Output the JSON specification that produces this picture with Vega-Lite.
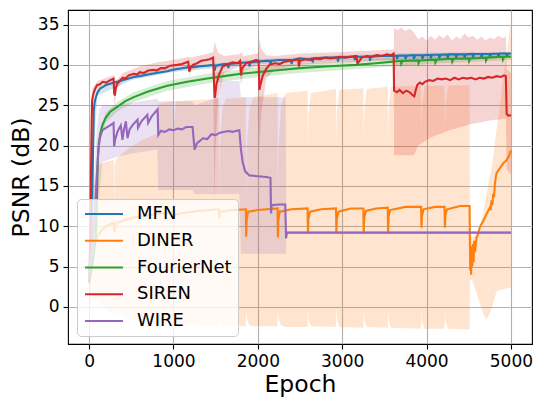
{
"$schema": "https://vega.github.io/schema/vega-lite/v6.json",
"width": 464, "height": 334,
"autosize": {"type": "none"},
"padding": {"left": 68, "top": 10, "right": 4, "bottom": 54},
"background": "white",
"config": {
  "view": {"stroke": "black", "strokeWidth": 1.1},
  "font": "DejaVu Sans",
  "axis": {"labelFont": "DejaVu Sans", "labelFontSize": 17, "labelColor": "black", "tickColor": "black", "tickSize": 5, "tickWidth": 1.1, "domain": false, "grid": true, "gridColor": "#b0b0b0", "gridWidth": 1.1, "titleFont": "DejaVu Sans", "titleFontSize": 23.5, "titleFontWeight": "normal", "titleColor": "black", "labelPadding": 4, "labelFlush": false},
  "legend": {"labelFont": "DejaVu Sans", "labelFontSize": 18, "labelColor": "black"}
},
"datasets": {
"L": [
{"s":"MFN","e":0,"v":4},{"s":"MFN","e":25,"v":8},{"s":"MFN","e":40,"v":15},{"s":"MFN","e":50,"v":21},{"s":"MFN","e":55,"v":24.2},{"s":"MFN","e":65,"v":25.3},{"s":"MFN","e":80,"v":26},{"s":"MFN","e":100,"v":26.6},{"s":"MFN","e":134,"v":27.1},{"s":"MFN","e":170,"v":27.3},{"s":"MFN","e":200,"v":27.5},{"s":"MFN","e":260,"v":27.7},{"s":"MFN","e":333,"v":27.9},{"s":"MFN","e":400,"v":28.1},{"s":"MFN","e":470,"v":28.3},{"s":"MFN","e":530,"v":28.5},{"s":"MFN","e":600,"v":28.6},{"s":"MFN","e":700,"v":28.8},{"s":"MFN","e":800,"v":29},{"s":"MFN","e":926,"v":29.2},{"s":"MFN","e":1000,"v":29.4},{"s":"MFN","e":1124,"v":29.6},{"s":"MFN","e":1185,"v":29.7},{"s":"MFN","e":1190,"v":29.2},{"s":"MFN","e":1200,"v":29.7},{"s":"MFN","e":1300,"v":29.8},{"s":"MFN","e":1400,"v":29.9},{"s":"MFN","e":1480,"v":30},{"s":"MFN","e":1490,"v":29.3},{"s":"MFN","e":1500,"v":29.9},{"s":"MFN","e":1600,"v":30.1},{"s":"MFN","e":1645,"v":30.1},{"s":"MFN","e":1650,"v":29.6},{"s":"MFN","e":1660,"v":30.1},{"s":"MFN","e":1750,"v":30.2},{"s":"MFN","e":1850,"v":30.3},{"s":"MFN","e":1895,"v":30.3},{"s":"MFN","e":1900,"v":29.8},{"s":"MFN","e":1910,"v":30.3},{"s":"MFN","e":2000,"v":30.4},{"s":"MFN","e":2100,"v":30.5},{"s":"MFN","e":2145,"v":30.5},{"s":"MFN","e":2150,"v":30},{"s":"MFN","e":2160,"v":30.5},{"s":"MFN","e":2250,"v":30.6},{"s":"MFN","e":2350,"v":30.6},{"s":"MFN","e":2395,"v":30.6},{"s":"MFN","e":2400,"v":30.1},{"s":"MFN","e":2410,"v":30.6},{"s":"MFN","e":2494,"v":30.8},{"s":"MFN","e":2600,"v":30.7},{"s":"MFN","e":2645,"v":30.8},{"s":"MFN","e":2650,"v":30.3},{"s":"MFN","e":2660,"v":30.8},{"s":"MFN","e":2800,"v":30.9},{"s":"MFN","e":2945,"v":30.9},{"s":"MFN","e":2950,"v":30.4},{"s":"MFN","e":2960,"v":30.9},{"s":"MFN","e":3100,"v":31},{"s":"MFN","e":3145,"v":31},{"s":"MFN","e":3150,"v":30.6},{"s":"MFN","e":3160,"v":31},{"s":"MFN","e":3325,"v":31},{"s":"MFN","e":3330,"v":30.5},{"s":"MFN","e":3340,"v":31},{"s":"MFN","e":3450,"v":31.1},{"s":"MFN","e":3600,"v":31.1},
{"s":"MFN","e":3647,"v":31.15},{"s":"MFN","e":3650,"v":30.7},{"s":"MFN","e":3665,"v":31.15},
{"s":"MFN","e":3747,"v":31.15},{"s":"MFN","e":3750,"v":30.7},{"s":"MFN","e":3765,"v":31.15},
{"s":"MFN","e":3847,"v":31.2},{"s":"MFN","e":3850,"v":30.75},{"s":"MFN","e":3865,"v":31.2},
{"s":"MFN","e":3947,"v":31.2},{"s":"MFN","e":3950,"v":30.75},{"s":"MFN","e":3965,"v":31.2},
{"s":"MFN","e":4047,"v":31.25},{"s":"MFN","e":4050,"v":30.8},{"s":"MFN","e":4065,"v":31.25},
{"s":"MFN","e":4147,"v":31.25},{"s":"MFN","e":4150,"v":30.8},{"s":"MFN","e":4165,"v":31.25},
{"s":"MFN","e":4247,"v":31.3},{"s":"MFN","e":4250,"v":30.85},{"s":"MFN","e":4265,"v":31.3},
{"s":"MFN","e":4347,"v":31.3},{"s":"MFN","e":4350,"v":30.85},{"s":"MFN","e":4365,"v":31.3},
{"s":"MFN","e":4447,"v":31.3},{"s":"MFN","e":4450,"v":30.9},{"s":"MFN","e":4465,"v":31.3},
{"s":"MFN","e":4547,"v":31.35},{"s":"MFN","e":4550,"v":30.9},{"s":"MFN","e":4565,"v":31.35},
{"s":"MFN","e":4647,"v":31.35},{"s":"MFN","e":4650,"v":30.9},{"s":"MFN","e":4665,"v":31.35},
{"s":"MFN","e":4747,"v":31.35},{"s":"MFN","e":4750,"v":30.95},{"s":"MFN","e":4765,"v":31.35},
{"s":"MFN","e":4847,"v":31.4},{"s":"MFN","e":4850,"v":30.95},{"s":"MFN","e":4865,"v":31.4},
{"s":"MFN","e":4947,"v":31.4},{"s":"MFN","e":4950,"v":31},{"s":"MFN","e":4965,"v":31.4},{"s":"MFN","e":5000,"v":31.4},

{"s":"DINER","e":0,"v":3},{"s":"DINER","e":30,"v":5.5},{"s":"DINER","e":60,"v":7.5},{"s":"DINER","e":100,"v":8.8},{"s":"DINER","e":150,"v":9.5},{"s":"DINER","e":200,"v":10},{"s":"DINER","e":260,"v":10.3},{"s":"DINER","e":295,"v":10.4},{"s":"DINER","e":300,"v":9.3},{"s":"DINER","e":306,"v":10},{"s":"DINER","e":330,"v":10.4},{"s":"DINER","e":400,"v":10.7},{"s":"DINER","e":500,"v":11},{"s":"DINER","e":650,"v":11.3},{"s":"DINER","e":800,"v":11.5},{"s":"DINER","e":990,"v":11.7},{"s":"DINER","e":995,"v":10.8},{"s":"DINER","e":1003,"v":11.4},{"s":"DINER","e":1100,"v":11.6},{"s":"DINER","e":1300,"v":11.9},{"s":"DINER","e":1540,"v":12.1},{"s":"DINER","e":1544,"v":11},{"s":"DINER","e":1552,"v":11.8},{"s":"DINER","e":1700,"v":12},{"s":"DINER","e":1858,"v":12.1},{"s":"DINER","e":1862,"v":8.7},{"s":"DINER","e":1868,"v":10.8},{"s":"DINER","e":1885,"v":11.8},{"s":"DINER","e":2000,"v":12},{"s":"DINER","e":2234,"v":12.2},{"s":"DINER","e":2238,"v":8.6},{"s":"DINER","e":2244,"v":10.8},{"s":"DINER","e":2260,"v":11.8},{"s":"DINER","e":2400,"v":12.1},{"s":"DINER","e":2590,"v":12.2},{"s":"DINER","e":2594,"v":9.1},{"s":"DINER","e":2600,"v":11},{"s":"DINER","e":2620,"v":11.8},{"s":"DINER","e":2750,"v":12.1},{"s":"DINER","e":2927,"v":12.2},{"s":"DINER","e":2931,"v":9.1},{"s":"DINER","e":2937,"v":11},{"s":"DINER","e":2957,"v":11.8},{"s":"DINER","e":3100,"v":12.2},{"s":"DINER","e":3251,"v":12.2},{"s":"DINER","e":3255,"v":9.1},{"s":"DINER","e":3261,"v":11},{"s":"DINER","e":3281,"v":11.9},{"s":"DINER","e":3400,"v":12.2},{"s":"DINER","e":3540,"v":12.3},{"s":"DINER","e":3544,"v":9.1},{"s":"DINER","e":3550,"v":11.2},{"s":"DINER","e":3570,"v":12},{"s":"DINER","e":3750,"v":12.4},{"s":"DINER","e":3936,"v":12.4},{"s":"DINER","e":3940,"v":9.8},{"s":"DINER","e":3946,"v":11.3},{"s":"DINER","e":3966,"v":12.1},{"s":"DINER","e":4100,"v":12.4},{"s":"DINER","e":4213,"v":12.4},{"s":"DINER","e":4217,"v":9.8},{"s":"DINER","e":4223,"v":11.3},{"s":"DINER","e":4243,"v":12.1},{"s":"DINER","e":4400,"v":12.5},{"s":"DINER","e":4510,"v":12.5},{"s":"DINER","e":4514,"v":8},{"s":"DINER","e":4518,"v":4.5},{"s":"DINER","e":4523,"v":7.5},{"s":"DINER","e":4528,"v":4},{"s":"DINER","e":4535,"v":6.8},{"s":"DINER","e":4542,"v":5},{"s":"DINER","e":4550,"v":7.8},{"s":"DINER","e":4557,"v":5.5},{"s":"DINER","e":4565,"v":8.2},{"s":"DINER","e":4575,"v":6.8},{"s":"DINER","e":4590,"v":8.5},{"s":"DINER","e":4610,"v":9},{"s":"DINER","e":4632,"v":9.9},{"s":"DINER","e":4680,"v":10.8},{"s":"DINER","e":4720,"v":11.7},{"s":"DINER","e":4750,"v":12.3},{"s":"DINER","e":4760,"v":12},{"s":"DINER","e":4770,"v":13.2},{"s":"DINER","e":4780,"v":12.6},{"s":"DINER","e":4790,"v":14},{"s":"DINER","e":4800,"v":13.6},{"s":"DINER","e":4810,"v":15.2},{"s":"DINER","e":4820,"v":16},{"s":"DINER","e":4830,"v":16.6},{"s":"DINER","e":4870,"v":17.2},{"s":"DINER","e":4910,"v":17.8},{"s":"DINER","e":4950,"v":18.2},{"s":"DINER","e":4980,"v":18.8},{"s":"DINER","e":5000,"v":19.4},

{"s":"FourierNet","e":0,"v":3},{"s":"FourierNet","e":50,"v":6},{"s":"FourierNet","e":80,"v":9},{"s":"FourierNet","e":90,"v":12.5},{"s":"FourierNet","e":97,"v":15.5},{"s":"FourierNet","e":105,"v":18.5},{"s":"FourierNet","e":115,"v":20.3},{"s":"FourierNet","e":134,"v":21.6},{"s":"FourierNet","e":160,"v":22.6},{"s":"FourierNet","e":200,"v":23.5},{"s":"FourierNet","e":250,"v":24.2},{"s":"FourierNet","e":333,"v":24.8},{"s":"FourierNet","e":430,"v":25.5},{"s":"FourierNet","e":530,"v":26},{"s":"FourierNet","e":700,"v":26.7},{"s":"FourierNet","e":926,"v":27.4},{"s":"FourierNet","e":1164,"v":27.9},{"s":"FourierNet","e":1400,"v":28.3},{"s":"FourierNet","e":1600,"v":28.6},{"s":"FourierNet","e":1800,"v":28.9},{"s":"FourierNet","e":2000,"v":29.1},{"s":"FourierNet","e":2200,"v":29.3},{"s":"FourierNet","e":2494,"v":29.6},{"s":"FourierNet","e":2800,"v":29.8},{"s":"FourierNet","e":3167,"v":30},{"s":"FourierNet","e":3400,"v":30.2},{"s":"FourierNet","e":3600,"v":30.4},{"s":"FourierNet","e":3695,"v":30.5},{"s":"FourierNet","e":3700,"v":30.15},{"s":"FourierNet","e":3715,"v":30.5},{"s":"FourierNet","e":3900,"v":30.55},{"s":"FourierNet","e":3905,"v":30.2},{"s":"FourierNet","e":3920,"v":30.55},{"s":"FourierNet","e":4100,"v":30.65},{"s":"FourierNet","e":4105,"v":30.3},{"s":"FourierNet","e":4120,"v":30.65},{"s":"FourierNet","e":4300,"v":30.75},{"s":"FourierNet","e":4305,"v":30.4},{"s":"FourierNet","e":4320,"v":30.75},{"s":"FourierNet","e":4500,"v":30.8},{"s":"FourierNet","e":4505,"v":30.45},{"s":"FourierNet","e":4520,"v":30.8},{"s":"FourierNet","e":4700,"v":30.9},{"s":"FourierNet","e":4705,"v":30.55},{"s":"FourierNet","e":4720,"v":30.9},{"s":"FourierNet","e":4900,"v":31},{"s":"FourierNet","e":4905,"v":30.65},{"s":"FourierNet","e":4920,"v":31},{"s":"FourierNet","e":5000,"v":31},

{"s":"SIREN","e":0,"v":3},{"s":"SIREN","e":15,"v":9},{"s":"SIREN","e":22,"v":16},{"s":"SIREN","e":30,"v":22.5},{"s":"SIREN","e":36,"v":25.6},{"s":"SIREN","e":50,"v":26.4},{"s":"SIREN","e":70,"v":27},{"s":"SIREN","e":95,"v":27.5},{"s":"SIREN","e":130,"v":27.6},{"s":"SIREN","e":160,"v":27.9},{"s":"SIREN","e":200,"v":27.8},{"s":"SIREN","e":253,"v":28.1},{"s":"SIREN","e":290,"v":28.3},{"s":"SIREN","e":297,"v":26.5},{"s":"SIREN","e":305,"v":26.2},{"s":"SIREN","e":315,"v":27},{"s":"SIREN","e":330,"v":27.6},{"s":"SIREN","e":360,"v":28},{"s":"SIREN","e":400,"v":28.4},{"s":"SIREN","e":430,"v":28.3},{"s":"SIREN","e":470,"v":28.7},{"s":"SIREN","e":530,"v":28.9},{"s":"SIREN","e":570,"v":28.8},{"s":"SIREN","e":600,"v":29.1},{"s":"SIREN","e":650,"v":29},{"s":"SIREN","e":700,"v":29.3},{"s":"SIREN","e":768,"v":29.4},{"s":"SIREN","e":800,"v":29.3},{"s":"SIREN","e":850,"v":29.6},{"s":"SIREN","e":900,"v":29.6},{"s":"SIREN","e":960,"v":29.9},{"s":"SIREN","e":1045,"v":30},{"s":"SIREN","e":1100,"v":30.1},{"s":"SIREN","e":1150,"v":30.3},{"s":"SIREN","e":1175,"v":30.4},{"s":"SIREN","e":1188,"v":29.2},{"s":"SIREN","e":1200,"v":29.6},{"s":"SIREN","e":1230,"v":30},{"s":"SIREN","e":1280,"v":30.2},{"s":"SIREN","e":1330,"v":30.5},{"s":"SIREN","e":1385,"v":30.6},{"s":"SIREN","e":1430,"v":30.7},{"s":"SIREN","e":1470,"v":30.9},{"s":"SIREN","e":1480,"v":28},{"s":"SIREN","e":1488,"v":25.9},{"s":"SIREN","e":1495,"v":26.3},{"s":"SIREN","e":1510,"v":27.6},{"s":"SIREN","e":1540,"v":28.8},{"s":"SIREN","e":1583,"v":29.8},{"s":"SIREN","e":1650,"v":30.1},{"s":"SIREN","e":1700,"v":30.3},{"s":"SIREN","e":1760,"v":30.2},{"s":"SIREN","e":1790,"v":30.5},{"s":"SIREN","e":1801,"v":28.7},{"s":"SIREN","e":1812,"v":29.5},{"s":"SIREN","e":1861,"v":30.2},{"s":"SIREN","e":1920,"v":30.4},{"s":"SIREN","e":1980,"v":30.6},{"s":"SIREN","e":2010,"v":30.5},{"s":"SIREN","e":2019,"v":26.9},{"s":"SIREN","e":2030,"v":27.5},{"s":"SIREN","e":2060,"v":28.7},{"s":"SIREN","e":2100,"v":29.5},{"s":"SIREN","e":2138,"v":30},{"s":"SIREN","e":2200,"v":30.2},{"s":"SIREN","e":2260,"v":30.1},{"s":"SIREN","e":2320,"v":30.4},{"s":"SIREN","e":2380,"v":30.5},{"s":"SIREN","e":2440,"v":30.6},{"s":"SIREN","e":2480,"v":30.7},{"s":"SIREN","e":2487,"v":29.8},{"s":"SIREN","e":2500,"v":30.5},{"s":"SIREN","e":2560,"v":30.7},{"s":"SIREN","e":2620,"v":30.6},{"s":"SIREN","e":2680,"v":30.8},{"s":"SIREN","e":2740,"v":30.7},{"s":"SIREN","e":2800,"v":30.9},{"s":"SIREN","e":2860,"v":30.8},{"s":"SIREN","e":2920,"v":30.9},{"s":"SIREN","e":2980,"v":31},{"s":"SIREN","e":3040,"v":30.9},{"s":"SIREN","e":3100,"v":31},{"s":"SIREN","e":3170,"v":31.1},{"s":"SIREN","e":3180,"v":30.2},{"s":"SIREN","e":3200,"v":30.4},{"s":"SIREN","e":3230,"v":30.9},{"s":"SIREN","e":3290,"v":31.1},{"s":"SIREN","e":3350,"v":31},{"s":"SIREN","e":3410,"v":31.2},{"s":"SIREN","e":3470,"v":31.1},{"s":"SIREN","e":3530,"v":31.3},{"s":"SIREN","e":3580,"v":31.2},{"s":"SIREN","e":3610,"v":31.4},{"s":"SIREN","e":3615,"v":26.8},{"s":"SIREN","e":3650,"v":26.6},{"s":"SIREN","e":3680,"v":26.9},{"s":"SIREN","e":3720,"v":26.5},{"s":"SIREN","e":3760,"v":26.8},{"s":"SIREN","e":3800,"v":26.6},{"s":"SIREN","e":3840,"v":26.2},{"s":"SIREN","e":3855,"v":26.1},{"s":"SIREN","e":3870,"v":26.8},{"s":"SIREN","e":3890,"v":27.5},{"s":"SIREN","e":3920,"v":27.8},{"s":"SIREN","e":3950,"v":27.6},{"s":"SIREN","e":3980,"v":27.9},{"s":"SIREN","e":4030,"v":28.1},{"s":"SIREN","e":4080,"v":28},{"s":"SIREN","e":4130,"v":28.3},{"s":"SIREN","e":4180,"v":28.2},{"s":"SIREN","e":4230,"v":28.3},{"s":"SIREN","e":4280,"v":28.1},{"s":"SIREN","e":4330,"v":28.4},{"s":"SIREN","e":4380,"v":28.2},{"s":"SIREN","e":4430,"v":28.4},{"s":"SIREN","e":4480,"v":28.3},{"s":"SIREN","e":4530,"v":28.4},{"s":"SIREN","e":4580,"v":28.2},{"s":"SIREN","e":4630,"v":28.4},{"s":"SIREN","e":4680,"v":28.3},{"s":"SIREN","e":4730,"v":28.5},{"s":"SIREN","e":4780,"v":28.4},{"s":"SIREN","e":4830,"v":28.6},{"s":"SIREN","e":4880,"v":28.5},{"s":"SIREN","e":4920,"v":28.7},{"s":"SIREN","e":4940,"v":28.6},{"s":"SIREN","e":4950,"v":23.9},{"s":"SIREN","e":4970,"v":23.7},{"s":"SIREN","e":5000,"v":23.8},

{"s":"WIRE","e":0,"v":4},{"s":"WIRE","e":40,"v":8},{"s":"WIRE","e":70,"v":12},{"s":"WIRE","e":90,"v":16},{"s":"WIRE","e":110,"v":19.5},{"s":"WIRE","e":130,"v":21},{"s":"WIRE","e":158,"v":21.9},{"s":"WIRE","e":200,"v":22.2},{"s":"WIRE","e":250,"v":22.5},{"s":"WIRE","e":290,"v":22.8},{"s":"WIRE","e":297,"v":19.9},{"s":"WIRE","e":310,"v":20.8},{"s":"WIRE","e":340,"v":21.8},{"s":"WIRE","e":376,"v":22.5},{"s":"WIRE","e":396,"v":20.7},{"s":"WIRE","e":410,"v":21.8},{"s":"WIRE","e":436,"v":23},{"s":"WIRE","e":455,"v":20.9},{"s":"WIRE","e":480,"v":22},{"s":"WIRE","e":520,"v":22.6},{"s":"WIRE","e":574,"v":23.2},{"s":"WIRE","e":580,"v":22.2},{"s":"WIRE","e":620,"v":23},{"s":"WIRE","e":690,"v":23.8},{"s":"WIRE","e":700,"v":22.8},{"s":"WIRE","e":740,"v":23.6},{"s":"WIRE","e":812,"v":24.5},{"s":"WIRE","e":820,"v":21.3},{"s":"WIRE","e":850,"v":21.8},{"s":"WIRE","e":900,"v":21.7},{"s":"WIRE","e":950,"v":22},{"s":"WIRE","e":1000,"v":21.9},{"s":"WIRE","e":1050,"v":22.1},{"s":"WIRE","e":1100,"v":22},{"s":"WIRE","e":1150,"v":22.3},{"s":"WIRE","e":1227,"v":22.3},{"s":"WIRE","e":1250,"v":19.5},{"s":"WIRE","e":1280,"v":20.3},{"s":"WIRE","e":1350,"v":20.9},{"s":"WIRE","e":1400,"v":20.8},{"s":"WIRE","e":1450,"v":21.4},{"s":"WIRE","e":1500,"v":21.3},{"s":"WIRE","e":1550,"v":21.6},{"s":"WIRE","e":1650,"v":21.8},{"s":"WIRE","e":1700,"v":21.7},{"s":"WIRE","e":1781,"v":21.9},{"s":"WIRE","e":1800,"v":19.5},{"s":"WIRE","e":1820,"v":18},{"s":"WIRE","e":1850,"v":16.8},{"s":"WIRE","e":1900,"v":16.3},{"s":"WIRE","e":2000,"v":16.2},{"s":"WIRE","e":2100,"v":16.1},{"s":"WIRE","e":2150,"v":16},{"s":"WIRE","e":2157,"v":11.6},{"s":"WIRE","e":2165,"v":12.6},{"s":"WIRE","e":2250,"v":12.7},{"s":"WIRE","e":2325,"v":12.7},{"s":"WIRE","e":2335,"v":8.5},{"s":"WIRE","e":2345,"v":9.2},{"s":"WIRE","e":5000,"v":9.2}
],
"B": [
{"s":"MFN","e":0,"lo":2,"hi":6},{"s":"MFN","e":50,"lo":19,"hi":23},{"s":"MFN","e":100,"lo":26.2,"hi":27},{"s":"MFN","e":500,"lo":28.1,"hi":28.8},{"s":"MFN","e":1000,"lo":29.1,"hi":29.7},{"s":"MFN","e":2000,"lo":30.1,"hi":30.7},{"s":"MFN","e":3000,"lo":30.5,"hi":31.2},{"s":"MFN","e":4000,"lo":30.7,"hi":31.5},{"s":"MFN","e":5000,"lo":31,"hi":31.6},

{"s":"DINER","e":0,"lo":0.5,"hi":9},{"s":"DINER","e":40,"lo":0.8,"hi":14},{"s":"DINER","e":100,"lo":0.8,"hi":17.5},{"s":"DINER","e":200,"lo":-0.3,"hi":18},{"s":"DINER","e":294,"lo":-0.8,"hi":18.2},{"s":"DINER","e":297,"lo":0,"hi":12},{"s":"DINER","e":303,"lo":-0.3,"hi":17.5},{"s":"DINER","e":320,"lo":-0.8,"hi":18.3},{"s":"DINER","e":450,"lo":-1.4,"hi":19.5},{"s":"DINER","e":630,"lo":-1.8,"hi":20.7},{"s":"DINER","e":810,"lo":-2,"hi":21.5},{"s":"DINER","e":820,"lo":-2,"hi":25.2},{"s":"DINER","e":990,"lo":-2.1,"hi":25.5},{"s":"DINER","e":995,"lo":-0.5,"hi":14},{"s":"DINER","e":1003,"lo":-1.2,"hi":22},{"s":"DINER","e":1030,"lo":-2.1,"hi":25.5},{"s":"DINER","e":1200,"lo":-2.2,"hi":25.6},{"s":"DINER","e":1540,"lo":-2.3,"hi":25.8},{"s":"DINER","e":1544,"lo":-0.3,"hi":13},{"s":"DINER","e":1552,"lo":-1.5,"hi":20},{"s":"DINER","e":1580,"lo":-2.2,"hi":24.5},{"s":"DINER","e":1620,"lo":-2.3,"hi":25.8},{"s":"DINER","e":1858,"lo":-2.4,"hi":26},{"s":"DINER","e":1862,"lo":-0.2,"hi":12},{"s":"DINER","e":1870,"lo":-1.5,"hi":20},{"s":"DINER","e":1900,"lo":-2.3,"hi":24.5},{"s":"DINER","e":1950,"lo":-2.4,"hi":26},{"s":"DINER","e":2234,"lo":-2.4,"hi":26.5},{"s":"DINER","e":2238,"lo":-0.2,"hi":12},{"s":"DINER","e":2246,"lo":-1.5,"hi":20},{"s":"DINER","e":2275,"lo":-2.3,"hi":25},{"s":"DINER","e":2330,"lo":-2.5,"hi":26.5},{"s":"DINER","e":2590,"lo":-2.5,"hi":26.8},{"s":"DINER","e":2594,"lo":-0.2,"hi":20},{"s":"DINER","e":2602,"lo":-1.6,"hi":24},{"s":"DINER","e":2630,"lo":-2.4,"hi":26.5},{"s":"DINER","e":2927,"lo":-2.5,"hi":27},{"s":"DINER","e":2931,"lo":-0.2,"hi":20.5},{"s":"DINER","e":2939,"lo":-1.6,"hi":24.5},{"s":"DINER","e":2967,"lo":-2.5,"hi":26.9},{"s":"DINER","e":3251,"lo":-2.6,"hi":27.1},{"s":"DINER","e":3255,"lo":-0.3,"hi":21},{"s":"DINER","e":3263,"lo":-1.6,"hi":24.5},{"s":"DINER","e":3291,"lo":-2.5,"hi":27},{"s":"DINER","e":3540,"lo":-2.6,"hi":27.3},{"s":"DINER","e":3544,"lo":-0.3,"hi":21},{"s":"DINER","e":3552,"lo":-1.7,"hi":25},{"s":"DINER","e":3580,"lo":-2.6,"hi":27.3},{"s":"DINER","e":3936,"lo":-2.7,"hi":27.4},{"s":"DINER","e":3940,"lo":-0.5,"hi":21.5},{"s":"DINER","e":3948,"lo":-1.8,"hi":25},{"s":"DINER","e":3976,"lo":-2.7,"hi":27.4},{"s":"DINER","e":4213,"lo":-2.7,"hi":27.4},{"s":"DINER","e":4217,"lo":-0.5,"hi":21.5},{"s":"DINER","e":4225,"lo":-1.8,"hi":25},{"s":"DINER","e":4253,"lo":-2.7,"hi":27.4},{"s":"DINER","e":4510,"lo":-2.8,"hi":27.5},{"s":"DINER","e":4514,"lo":3.3,"hi":9},{"s":"DINER","e":4540,"lo":3.3,"hi":8.6},{"s":"DINER","e":4600,"lo":1.5,"hi":9},{"s":"DINER","e":4632,"lo":0.4,"hi":10},{"s":"DINER","e":4680,"lo":-1,"hi":12},{"s":"DINER","e":4711,"lo":-1.6,"hi":14},{"s":"DINER","e":4740,"lo":-1,"hi":15.5},{"s":"DINER","e":4760,"lo":-0.5,"hi":16.5},{"s":"DINER","e":4790,"lo":0.5,"hi":18.5},{"s":"DINER","e":4830,"lo":1.9,"hi":22},{"s":"DINER","e":4870,"lo":2.1,"hi":25},{"s":"DINER","e":4910,"lo":2.2,"hi":28.5},{"s":"DINER","e":4950,"lo":2.3,"hi":31.5},{"s":"DINER","e":4990,"lo":2.4,"hi":34.7},{"s":"DINER","e":5000,"lo":2.4,"hi":35},

{"s":"FourierNet","e":0,"lo":1,"hi":5},{"s":"FourierNet","e":90,"lo":10,"hi":15},{"s":"FourierNet","e":105,"lo":17.5,"hi":19.5},{"s":"FourierNet","e":134,"lo":21,"hi":22.3},{"s":"FourierNet","e":200,"lo":22.9,"hi":24.1},{"s":"FourierNet","e":333,"lo":24.2,"hi":25.4},{"s":"FourierNet","e":530,"lo":25.4,"hi":26.6},{"s":"FourierNet","e":926,"lo":26.8,"hi":28},{"s":"FourierNet","e":1400,"lo":27.7,"hi":28.9},{"s":"FourierNet","e":2000,"lo":28.5,"hi":29.7},{"s":"FourierNet","e":2494,"lo":29,"hi":30.2},{"s":"FourierNet","e":3167,"lo":29.5,"hi":30.5},{"s":"FourierNet","e":4000,"lo":30.1,"hi":31.1},{"s":"FourierNet","e":5000,"lo":30.6,"hi":31.4},

{"s":"SIREN","e":0,"lo":2,"hi":6},{"s":"SIREN","e":20,"lo":8,"hi":16},{"s":"SIREN","e":36,"lo":24,"hi":27},{"s":"SIREN","e":60,"lo":26.2,"hi":27.4},{"s":"SIREN","e":100,"lo":27,"hi":28},{"s":"SIREN","e":290,"lo":27.8,"hi":28.7},{"s":"SIREN","e":300,"lo":25,"hi":28.6},{"s":"SIREN","e":310,"lo":25.5,"hi":28},{"s":"SIREN","e":330,"lo":27,"hi":28.2},{"s":"SIREN","e":400,"lo":28,"hi":29},{"s":"SIREN","e":600,"lo":28.6,"hi":29.8},{"s":"SIREN","e":800,"lo":29,"hi":30.3},{"s":"SIREN","e":1045,"lo":29.4,"hi":30.7},{"s":"SIREN","e":1180,"lo":29.6,"hi":31},{"s":"SIREN","e":1188,"lo":28.5,"hi":31},{"s":"SIREN","e":1200,"lo":29.2,"hi":30.9},{"s":"SIREN","e":1385,"lo":30,"hi":31.3},{"s":"SIREN","e":1470,"lo":30.2,"hi":31.6},{"s":"SIREN","e":1485,"lo":13,"hi":32.8},{"s":"SIREN","e":1500,"lo":20,"hi":32.5},{"s":"SIREN","e":1530,"lo":26,"hi":31.5},{"s":"SIREN","e":1600,"lo":29,"hi":31.1},{"s":"SIREN","e":1780,"lo":29.8,"hi":31.3},{"s":"SIREN","e":1801,"lo":27.5,"hi":31.6},{"s":"SIREN","e":1830,"lo":29.2,"hi":31.1},{"s":"SIREN","e":2000,"lo":29.9,"hi":31.4},{"s":"SIREN","e":2019,"lo":19.5,"hi":33.3},{"s":"SIREN","e":2040,"lo":24,"hi":32},{"s":"SIREN","e":2100,"lo":28.3,"hi":31.2},{"s":"SIREN","e":2200,"lo":29.4,"hi":31.1},{"s":"SIREN","e":2494,"lo":30,"hi":31.4},{"s":"SIREN","e":3000,"lo":30.3,"hi":31.6},{"s":"SIREN","e":3600,"lo":30.6,"hi":31.9},{"s":"SIREN","e":3612,"lo":30.6,"hi":31.9},{"s":"SIREN","e":3615,"lo":18.8,"hi":34.6},{"s":"SIREN","e":3650,"lo":18.8,"hi":34.3},{"s":"SIREN","e":3700,"lo":18.8,"hi":34.6},{"s":"SIREN","e":3750,"lo":18.8,"hi":34.2},{"s":"SIREN","e":3800,"lo":18.8,"hi":34.5},{"s":"SIREN","e":3850,"lo":18.8,"hi":34},{"s":"SIREN","e":3900,"lo":20,"hi":33.2},{"s":"SIREN","e":3950,"lo":20.3,"hi":33.5},{"s":"SIREN","e":4000,"lo":20.7,"hi":33},{"s":"SIREN","e":4050,"lo":21,"hi":33.6},{"s":"SIREN","e":4100,"lo":21.2,"hi":33.1},{"s":"SIREN","e":4150,"lo":21.4,"hi":33.7},{"s":"SIREN","e":4200,"lo":21.6,"hi":33.3},{"s":"SIREN","e":4250,"lo":21.8,"hi":33.8},{"s":"SIREN","e":4300,"lo":22,"hi":33},{"s":"SIREN","e":4350,"lo":22.1,"hi":33.5},{"s":"SIREN","e":4400,"lo":22.3,"hi":33.2},{"s":"SIREN","e":4450,"lo":22.4,"hi":33.9},{"s":"SIREN","e":4500,"lo":22.6,"hi":33.4},{"s":"SIREN","e":4550,"lo":22.7,"hi":33.6},{"s":"SIREN","e":4600,"lo":22.8,"hi":33.1},{"s":"SIREN","e":4650,"lo":22.9,"hi":33.5},{"s":"SIREN","e":4700,"lo":23,"hi":33},{"s":"SIREN","e":4750,"lo":23.1,"hi":33.4},{"s":"SIREN","e":4800,"lo":23.2,"hi":33.2},{"s":"SIREN","e":4850,"lo":23.2,"hi":33.6},{"s":"SIREN","e":4900,"lo":23.3,"hi":33.3},{"s":"SIREN","e":4940,"lo":23.3,"hi":33.5},{"s":"SIREN","e":4950,"lo":17,"hi":29.5},{"s":"SIREN","e":5000,"lo":16.5,"hi":29},

{"s":"WIRE","e":0,"lo":2,"hi":6},{"s":"WIRE","e":50,"lo":5,"hi":14},{"s":"WIRE","e":90,"lo":8,"hi":22},{"s":"WIRE","e":120,"lo":14,"hi":24.5},{"s":"WIRE","e":160,"lo":18,"hi":25},{"s":"WIRE","e":300,"lo":18.5,"hi":25},{"s":"WIRE","e":500,"lo":19,"hi":25.3},{"s":"WIRE","e":810,"lo":19.5,"hi":25.8},{"s":"WIRE","e":820,"lo":14.5,"hi":25.5},{"s":"WIRE","e":1227,"lo":14.5,"hi":25.5},{"s":"WIRE","e":1250,"lo":14,"hi":25},{"s":"WIRE","e":1540,"lo":14,"hi":26},{"s":"WIRE","e":1560,"lo":14,"hi":28},{"s":"WIRE","e":1781,"lo":14,"hi":28},{"s":"WIRE","e":1800,"lo":6.6,"hi":26},{"s":"WIRE","e":2330,"lo":6.6,"hi":26},{"s":"WIRE","e":2340,"lo":9,"hi":9.4},{"s":"WIRE","e":5000,"lo":9,"hi":9.4}
]
},
"layer": [
 {
  "data": {"name": "B"},
  "mark": {"type": "area", "fillOpacity": 0.2, "clip": true, "interpolate": "linear"},
  "encoding": {
   "x": {"field": "e", "type": "quantitative", "scale": {"domain": [-250, 5250], "nice": false, "zero": false}, "axis": {"values": [0,1000,2000,3000,4000,5000], "format": "d", "title": "Epoch", "titlePadding": 3}},
   "y": {"field": "lo", "type": "quantitative", "scale": {"domain": [-4.6, 36.8], "nice": false, "zero": false}, "axis": {"values": [0,5,10,15,20,25,30,35], "format": "d", "title": "PSNR (dB)", "titlePadding": 4}},
   "y2": {"field": "hi"},
   "fill": {"field": "s", "type": "nominal", "scale": {"domain": ["DINER","FourierNet","MFN","SIREN","WIRE"], "range": ["#ff7f0e","#2ca02c","#1f77b4","#d62728","#9467bd"]}, "legend": null}
  }
 },
 {
  "data": {"name": "L"},
  "mark": {"type": "line", "strokeWidth": 2.1, "clip": true},
  "encoding": {
   "x": {"field": "e", "type": "quantitative", "axis": {"values": [0,1000,2000,3000,4000,5000], "format": "d", "title": "Epoch", "titlePadding": 3}},
   "y": {"field": "v", "type": "quantitative", "axis": {"values": [0,5,10,15,20,25,30,35], "format": "d", "title": "PSNR (dB)", "titlePadding": 4}},
   "stroke": {"field": "s", "type": "nominal", "sort": null, "scale": {"domain": ["MFN","DINER","FourierNet","SIREN","WIRE"], "range": ["#1f77b4","#ff7f0e","#2ca02c","#d62728","#9467bd"]},
     "legend": {"title": null, "orient": "none", "legendX": 9, "legendY": 189, "padding": 6, "fillColor": "rgba(255,255,255,0.8)", "strokeColor": "#cccccc", "cornerRadius": 4, "symbolType": "M-2.375,0H2.375", "symbolSize": 256, "symbolStrokeWidth": 2, "symbolOffset": 12, "labelOffset": 24, "rowPadding": 8.75, "labelFontSize": 18, "labelFont": "DejaVu Sans", "labelColor": "black"}}
  }
 }
]
}
